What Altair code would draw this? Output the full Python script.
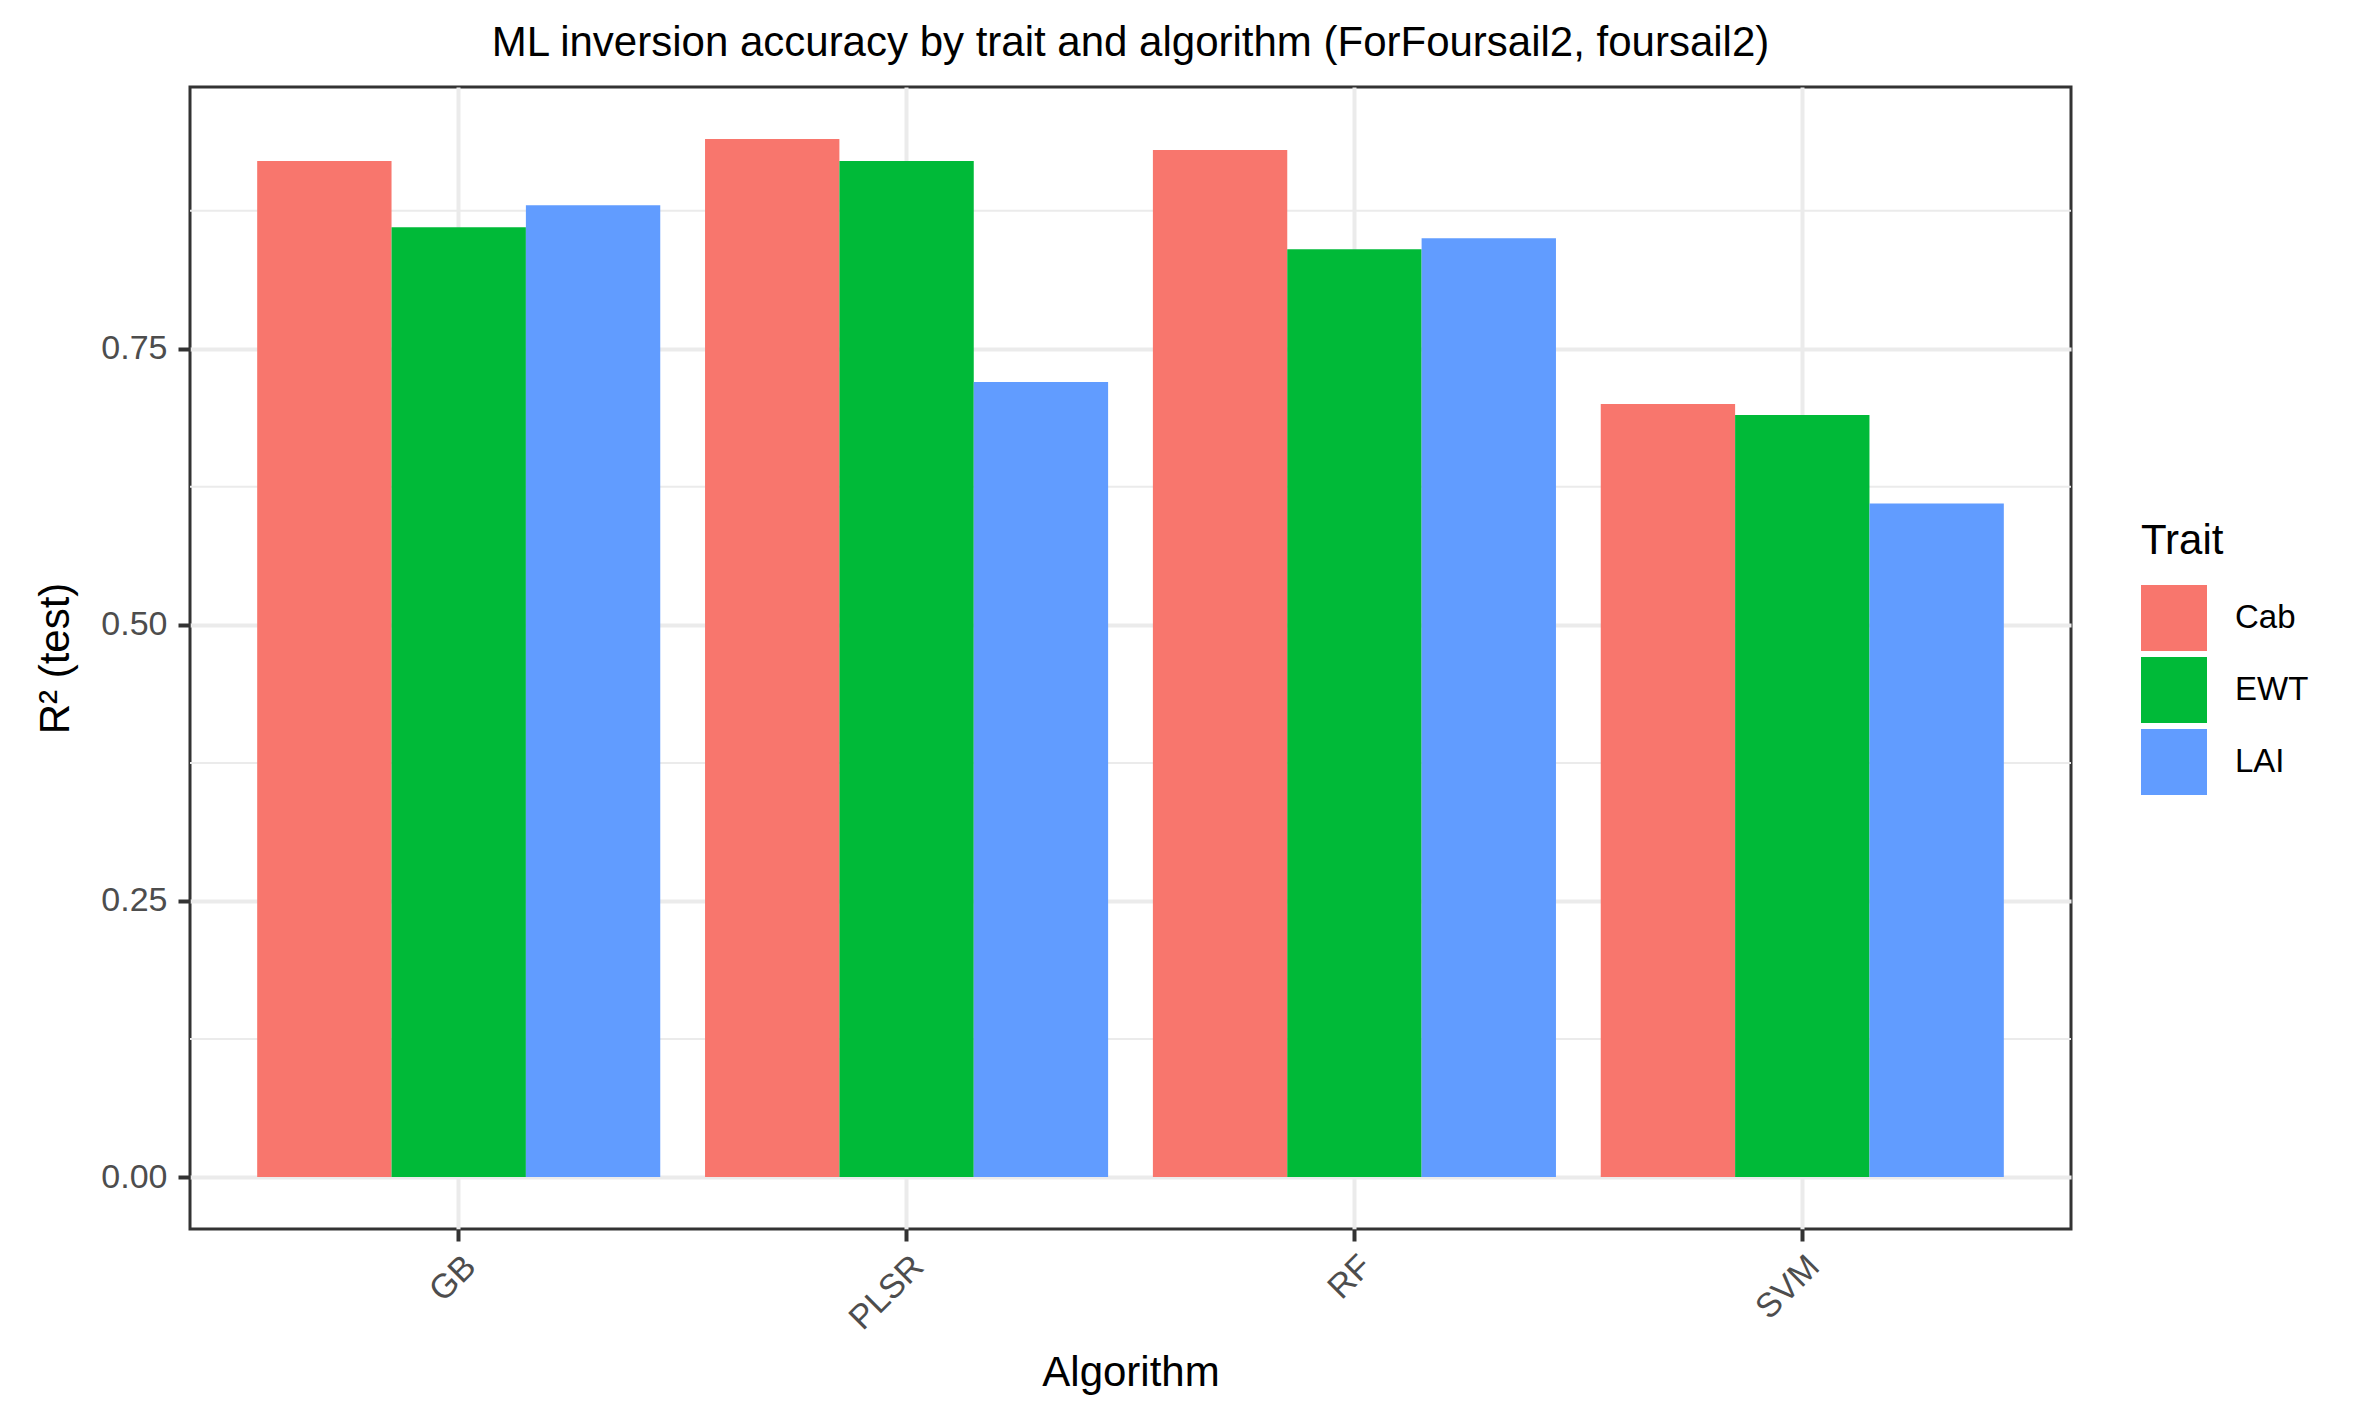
import altair as alt
import pandas as pd

algorithms = ["GB", "PLSR", "RF", "SVM"]
traits = ["Cab", "EWT", "LAI"]
cab = [0.92, 0.94, 0.93, 0.70]
ewt = [0.86, 0.92, 0.84, 0.69]
lai = [0.88, 0.72, 0.85, 0.61]
major_breaks = [0.0, 0.25, 0.50, 0.75]
minor_breaks = [0.125, 0.375, 0.625, 0.875]
colors = ["#F8766D", "#00BA38", "#619CFF"]

rows = []
for t, vals in zip(traits, [cab, ewt, lai]):
    for a, v in zip(algorithms, vals):
        rows.append({"Algorithm": a, "Trait": t, "R2": v})
df = pd.DataFrame(rows)
minor_df = pd.DataFrame({"v": minor_breaks})

ymax = df["R2"].max()
pad = 0.05 * ymax
yscale = alt.Scale(domain=[-pad, ymax + pad], nice=False, zero=False)

FONT = "Liberation Sans"

minor = alt.Chart(minor_df).mark_rule(color="#EBEBEB", strokeWidth=2).encode(
    y=alt.Y("v:Q", scale=yscale)
)

bars = alt.Chart(df).mark_bar(strokeWidth=0).encode(
    x=alt.X(
        "Algorithm:N",
        sort=algorithms,
        scale=alt.Scale(paddingInner=0.1, paddingOuter=0.15),
        axis=alt.Axis(
            title="Algorithm",
            grid=True,
            gridColor="#EBEBEB",
            gridWidth=4,
            bandPosition=0.5,
            domain=False,
            ticks=True,
            tickColor="#333333",
            tickWidth=4,
            tickSize=12,
            labelAngle=-45,
            labelAlign="right",
            labelBaseline="top",
            labelPadding=8,
            labelFontSize=34,
            labelColor="#4D4D4D",
            labelFont=FONT,
            titleFont=FONT,
            titleFontSize=42,
            titleFontWeight="normal",
            titleColor="#000000",
            titleY=156,
            titleBaseline="alphabetic",
        ),
    ),
    xOffset=alt.XOffset("Trait:N", sort=traits, scale=alt.Scale(paddingInner=0, paddingOuter=0)),
    y=alt.Y(
        "R2:Q",
        scale=yscale,
        axis=alt.Axis(
            title="R² (test)",
            values=major_breaks,
            format=".2f",
            grid=True,
            gridColor="#EBEBEB",
            gridWidth=4,
            domain=False,
            tickColor="#333333",
            tickWidth=4,
            tickSize=12,
            labelPadding=11,
            labelFontSize=34,
            labelColor="#4D4D4D",
            labelFont=FONT,
            titleFont=FONT,
            titleFontSize=42,
            titleFontWeight="normal",
            titleColor="#000000",
            titleX=-122,
            titleY=571,
            titleAlign="center",
            titleBaseline="alphabetic",
            titleAngle=-90,
        ),
    ),
    color=alt.Color(
        "Trait:N",
        sort=traits,
        scale=alt.Scale(domain=traits, range=colors),
        legend=alt.Legend(
            title="Trait",
            orient="none",
            legendX=1951,
            legendY=434,
            symbolType="square",
            symbolSize=4356,
            symbolStrokeWidth=0,
            symbolOpacity=1,
            rowPadding=6,
            labelOffset=28,
            labelFontSize=33,
            labelFont=FONT,
            labelColor="#000000",
            titleFont=FONT,
            titleFontSize=42,
            titleFontWeight="normal",
            titleColor="#000000",
            titlePadding=22,
        ),
    ),
)

chart = (
    alt.layer(minor, bars)
    .properties(
        width=1881,
        height=1142,
        padding={"left": 182, "top": 79, "right": 279, "bottom": 176},
        autosize=alt.AutoSizeParams(type="none"),
        title=alt.TitleParams(
            text="ML inversion accuracy by trait and algorithm (ForFoursail2, foursail2)",
            font=FONT,
            fontSize=42,
            fontWeight="normal",
            color="#000000",
            anchor="middle",
            baseline="alphabetic",
            offset=-11,
        ),
    )
    .configure(background="white")
    .configure_view(stroke="#333333", strokeWidth=3)
)

chart.save("out.html", embed_options={"renderer": "svg", "actions": False})
